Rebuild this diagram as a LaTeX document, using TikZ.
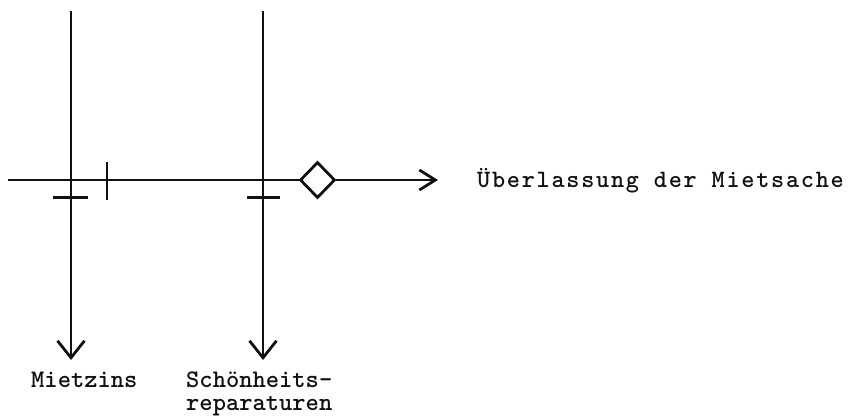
\documentclass[tikz,border=0pt]{standalone}
\usepackage{fontspec}
\usetikzlibrary{arrows.meta,shapes.geometric}
\newfontfamily\typew{lmmono10-regular.otf}[BoldFont=lmmonolt10-bold.otf]
\definecolor{ink}{HTML}{111111}
\tikzset{axis/.style={ink,line width=2.8pt},
vtip/.style={-{Straight Barb[length=17pt,width=27pt]}},
htip/.style={-{Straight Barb[length=16pt,width=20pt]}},
tick/.style={ink,line width=2.6pt},
lab/.style={font=\typew\bfseries\fontsize{25}{28}\selectfont\addfontfeature{LetterSpace=7},text=ink,inner sep=0pt,anchor=base west},
blab/.style={font=\typew\bfseries\fontsize{25.3}{23}\selectfont,text=ink,inner sep=0pt,align=left,anchor=base west}}
\begin{document}
\begin{tikzpicture}[x=1pt,y=-1pt]
\useasboundingbox (0,0) rectangle (850,418);
\coordinate (hstart) at (8,180);
\coordinate (hend) at (438,180);
\coordinate (top1) at (71,11);
\coordinate (end1) at (71,360);
\coordinate (top2) at (263,11);
\coordinate (end2) at (263,360);
\node[diamond,draw=ink,line width=2.8pt,minimum width=35pt,minimum height=36pt,inner sep=0pt] (dia) at (317.5,180) {};
\node[lab] (ueber) at (477,187) {Überlassung der Mietsache};
\node[blab] (miete) at (31,387) {Mietzins};
\node[blab] (schoen) at (186,410) {Schönheits-\\reparaturen};
\draw[axis] (hstart) -- (dia.west);
\draw[axis,htip] (dia.east) -- (hend);
\draw[axis,vtip] (top1) -- (end1);
\draw[axis,vtip] (top2) -- (end2);
\draw[tick] (107,162) -- (107,200);
\draw[tick] (53,197.5) -- (88,197.5);
\draw[tick] (247,197.5) -- (280,197.5);
\end{tikzpicture}
\end{document}
